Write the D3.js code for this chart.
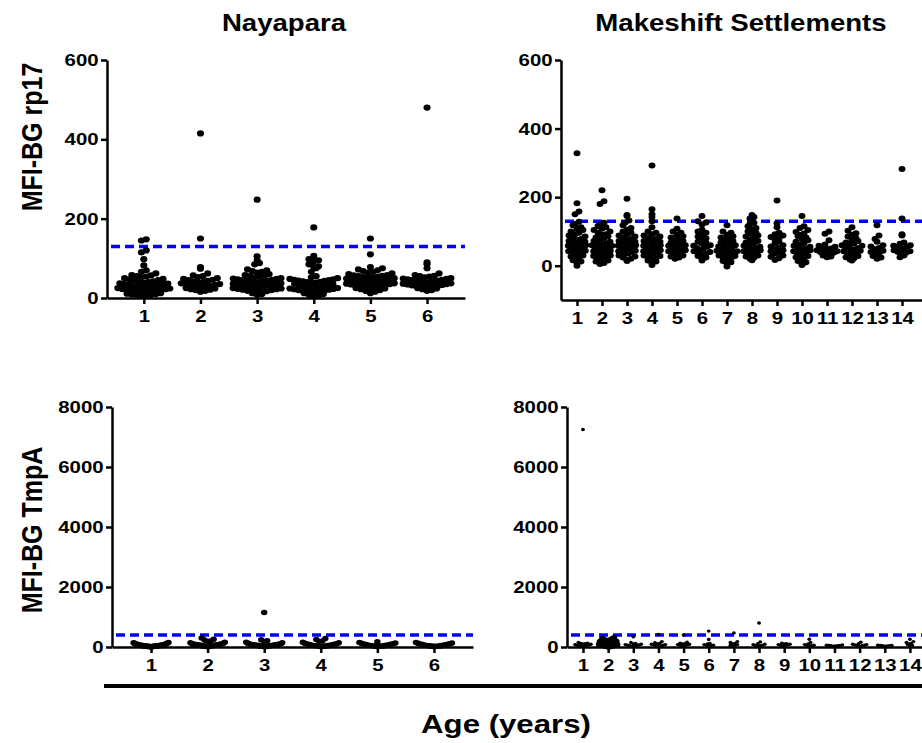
<!DOCTYPE html>
<html>
<head>
<meta charset="utf-8">
<script src="https://cdn.jsdelivr.net/npm/d3@7"></script>
<style>
  body { margin: 0; background: #fff; }
  svg text { font-family: "Liberation Sans", Arial, sans-serif; font-weight: bold; fill: #000; }
  .axis path, .axis line { stroke: #000; stroke-width: 2.5px; }
  .axis text { font-size: 17px; }
  .cutoff { stroke: #0000ff; stroke-width: 3.5px; stroke-dasharray: 9 5; fill: none; }
</style>
</head>
<body>
<svg id="MyGraph" width="922" height="743"></svg>
<script>
var sites = ["Nayapara", "Makeshift Settlements"];
var antigens = ["MFI-BG rp17", "MFI-BG TmpA"];
var naya_ages = [1, 2, 3, 4, 5, 6];
var make_ages = [1, 2, 3, 4, 5, 6, 7, 8, 9, 10, 11, 12, 13, 14];
var rp17_ticks = [0, 200, 400, 600];
var tmpa_ticks = [0, 2000, 4000, 6000, 8000];
var rp17_cutoff = 130;
var tmpa_cutoff = 400;

// Nayapara rp17, one list per age
var naya_rp17 = [
  [148,145,120,115,98,82,70,66,62,58,57,55,54,52,50,48,47,45,44,42,41,40,38,37,36,35,34,33,32,30,29,28,27,26,25,24,23,22,21,20,19,18,17,16,15,14,13,12,11,10,9,8,7,6,5],
  [415,150,78,74,62,57,55,53,50,48,46,45,43,42,40,38,37,35,34,33,32,30,29,28,26,25,24,22,21,20,18,16],
  [248,105,96,88,85,72,70,68,66,64,60,58,56,55,54,52,50,49,48,47,46,45,44,43,42,41,40,38,37,36,35,34,33,32,31,30,29,28,27,26,25,24,23,22,21,20,18,17,16,15,14,12,10,8],
  [178,106,98,95,92,85,80,78,75,66,55,52,50,48,47,46,45,44,43,42,41,40,39,38,36,35,33,31,30,29,28,27,26,25,24,23,22,21,20,19,18,17,16,15,14,12,10,8,6,4],
  [150,110,78,75,72,70,68,66,64,62,60,58,57,56,55,54,53,52,51,50,49,48,47,46,45,44,43,42,41,40,38,37,36,35,34,33,32,31,30,29,28,27,26,25,24,22,20,18,16,14,12],
  [480,90,85,75,62,58,56,55,54,52,50,49,48,47,46,45,44,43,42,41,40,38,37,36,35,34,33,32,31,30,29,28,27,26,25,24,22,20,18]
];

// Makeshift settlements rp17
var make_rp17 = [
  [328,182,158,150,128,122,118,112,108,104,100,96,92,88,85,82,78,75,72,70,68,65,62,60,58,56,54,52,50,48,46,44,42,40,38,36,34,30,27,24,20,16,12,8,0],
  [220,188,180,125,120,116,112,108,104,100,96,92,90,86,82,80,76,72,70,68,65,62,60,58,56,55,53,52,50,48,46,44,42,40,38,35,32,30,28,25,22,20,18,15,12,8,5],
  [195,148,145,132,125,118,110,105,100,96,92,88,85,82,78,75,72,70,68,65,62,60,58,56,54,52,50,48,46,44,42,40,38,36,34,30,27,24,20,17,14],
  [292,165,150,142,130,112,100,96,92,88,85,82,78,75,72,70,68,65,62,60,58,55,52,50,48,45,42,40,38,35,32,30,28,25,22,18,15,12,8,2],
  [138,108,100,96,90,86,82,78,75,72,68,65,62,60,58,55,52,50,48,45,42,40,38,35,32,30,27,24,20],
  [145,130,126,120,105,100,96,90,85,80,75,70,68,65,60,58,55,52,50,46,42,40,38,35,32,28,24,20,15],
  [118,100,96,90,86,82,78,75,72,68,65,62,60,56,54,50,48,46,44,42,40,38,36,34,32,30,28,25,22,18,14,10,5,-2],
  [148,142,138,125,120,115,110,105,100,96,92,88,85,80,76,72,68,65,62,58,55,52,50,48,45,42,40,38,35,32,30,27,24,20,16],
  [190,124,112,96,92,88,84,80,75,70,65,60,56,52,48,45,42,38,35,30,26,22,17],
  [145,115,110,104,98,94,90,86,82,78,74,70,66,62,58,55,52,50,48,45,42,40,38,35,32,28,25,22,18,14,10,5,2],
  [100,93,74,62,58,55,52,50,48,45,42,40,38,36,34,32,30,27,25],
  [112,102,95,90,85,80,76,72,68,65,62,60,58,55,52,50,48,46,44,42,40,38,35,32,28,25,22,18,15],
  [118,88,78,70,60,56,52,48,44,40,36,32,28,24,20],
  [282,138,92,88,68,64,60,58,55,52,50,48,45,42,40,38,35,30,25]
];

// Nayapara TmpA
var naya_tmpa = [
  [150,140,130,120,110,100,95,90,85,80,75,70,65,60,58,55,52,50,48,45,42,40,38,35,32,30,28,25,22,20,18,15,12,10],
  [300,260,230,200,180,160,140,120,110,100,95,90,85,80,75,70,65,60,55,50,45,40,35,30,25,20,15],
  [1150,240,210,180,160,140,120,100,95,90,85,80,75,70,65,60,55,50,45,40,35,30,25,20,15],
  [280,250,200,180,160,140,120,110,100,90,80,70,60,55,50,45,40,35,30,25,20],
  [170,150,130,120,110,100,90,80,70,60,55,50,45,40,35,30,25,20],
  [150,130,120,110,100,90,80,70,60,55,50,45,40,35,30,25,20]
];

// Makeshift settlements TmpA
var make_tmpa = [
  [7250,150,130,120,110,100,90,80,70,60,50,40,30,20],
  [300,280,260,240,220,200,190,180,170,160,150,140,130,120,110,100,90,80,70,60,50,40,30,20,10],
  [340,150,120,100,90,80,70,60,50,40,30,20],
  [420,180,140,120,100,90,80,70,60,50,40,30],
  [400,160,130,110,100,90,80,70,60,50,40],
  [530,250,120,100,80,60,50,40,30],
  [470,180,150,120,100,80,60,50,40],
  [800,170,110,90,80,60,50,40,30],
  [130,110,100,90,80,70,60,50,40],
  [260,150,100,80,60,50,40,30],
  [70,60,55,50,45,40,35,30],
  [160,110,90,80,70,60,50,40,30],
  [60,55,50,45,40,35,30],
  [260,180,150,120,100,80,60,50]
];

var svg = d3.select("#MyGraph");
var stretch = "scale(1.2,1)";

// Prism-like column scatter: values binned by pixel row, spread sideways
function swarm(values, cx, y_scale, o){
  var bins = {};
  values.forEach(function(v){
    var k = Math.floor((y_scale.range()[0] - y_scale(v)) / o.bin);
    (bins[k] = bins[k] || []).push(v);
  });
  var pts = [];
  Object.keys(bins).forEach(function(k){
    var b = bins[k].slice().sort(function(a, c){ return a - c; });
    var n = b.length;
    var step = o.dx;
    var half = Math.ceil((n - 1) / 2) * step;
    if (half > o.maxHalf) step = o.maxHalf / Math.ceil((n - 1) / 2);
    b.forEach(function(v, i){
      var slot = Math.ceil(i / 2) * (i % 2 ? 1 : -1);
      if (n % 2 == 0) slot = (i % 2 ? 1 : -1) * (Math.floor(i / 2) + 0.5);
      pts.push({x: cx + slot * step, y: y_scale(v), v: v});
    });
  });
  return pts;
}

function panel(p){
  var g = svg.append("g");
  var x_scale = d3.scaleLinear().domain(p.xdom).range([p.left, p.right]);
  var y_scale = d3.scaleLinear().domain(p.ydom).range([p.bottom, p.top]);

  g.append("line")
      .attr("class", "cutoff")
      .attr("x1", p.left + 4).attr("x2", p.right)
      .attr("y1", y_scale(p.cutoff)).attr("y2", y_scale(p.cutoff));

  p.data.forEach(function(vals, i){
    var cx = x_scale(p.ages[i]);
    var r = (p.big && p.big == p.ages[i]) ? 2.9 : p.r;
    g.selectAll(null)
        .data(swarm(vals, cx, y_scale, p.opt))
        .enter()
        .append("ellipse")
        .attr("rx", r * 1.15)
        .attr("ry", r)
        .attr("fill", "#000")
        .attr("cx", function(d){ return d.x; })
        .attr("cy", function(d){ return d.y; });
  });

  g.append("g")
      .attr("class", "axis")
      .attr("transform", "translate(0," + p.bottom + ")")
      .call(d3.axisBottom(x_scale).tickValues(p.ages).tickFormat(d3.format("d")).tickSizeInner(6).tickSizeOuter(0).tickPadding(6))
      .selectAll("text").attr("transform", stretch);

  g.append("g")
      .attr("class", "axis")
      .attr("transform", "translate(" + p.left + ",0)")
      .call(d3.axisLeft(y_scale).tickValues(p.yticks).tickFormat(d3.format("d")).tickSizeInner(6).tickSizeOuter(0).tickPadding(1))
      .selectAll("text").attr("transform", stretch);
}

panel({data: naya_rp17, ages: naya_ages, xdom: [0.35, 6.67], left: 107, right: 465,
       ydom: [0, 600], top: 60, bottom: 298, yticks: rp17_ticks, cutoff: rp17_cutoff,
       r: 3.1, opt: {bin: 5, dx: 4.8, maxHalf: 26}});
panel({data: make_rp17, ages: make_ages, xdom: [0.36, 14.8], left: 561, right: 922,
       ydom: [-100, 600], top: 60, bottom: 300, yticks: rp17_ticks, cutoff: rp17_cutoff,
       r: 3.0, opt: {bin: 5, dx: 4, maxHalf: 10}});
panel({data: naya_tmpa, ages: naya_ages, xdom: [0.31, 6.69], left: 112, right: 473,
       ydom: [0, 8000], top: 407, bottom: 647, yticks: tmpa_ticks, cutoff: tmpa_cutoff,
       r: 2.8, opt: {bin: 5, dx: 3, maxHalf: 18}});
panel({data: make_tmpa, ages: make_ages, xdom: [0.364, 14.48], left: 567, right: 922,
       ydom: [0, 8000], top: 407, bottom: 647, yticks: tmpa_ticks, cutoff: tmpa_cutoff,
       r: 1.7, big: 2, opt: {bin: 3, dx: 2.3, maxHalf: 9}});

// titles and labels
svg.append("text").attr("transform", "translate(284,31) " + stretch).attr("text-anchor", "middle")
    .style("font-size", "23px").text(sites[0]);
svg.append("text").attr("transform", "translate(741,31) " + stretch).attr("text-anchor", "middle")
    .style("font-size", "23px").text(sites[1]);

svg.append("text").attr("transform", "translate(42,137) " + stretch + " rotate(-90)").attr("text-anchor", "middle")
    .style("font-size", "25px").text(antigens[0]);
svg.append("text").attr("transform", "translate(42,530) " + stretch + " rotate(-90)").attr("text-anchor", "middle")
    .style("font-size", "25px").text(antigens[1]);

svg.append("line")
    .attr("x1", 104).attr("x2", 922).attr("y1", 686).attr("y2", 686)
    .attr("stroke", "#000").attr("stroke-width", 4);

svg.append("text").attr("transform", "translate(506,733) " + stretch).attr("text-anchor", "middle")
    .style("font-size", "26px").text("Age (years)");
</script>
</body>
</html>
